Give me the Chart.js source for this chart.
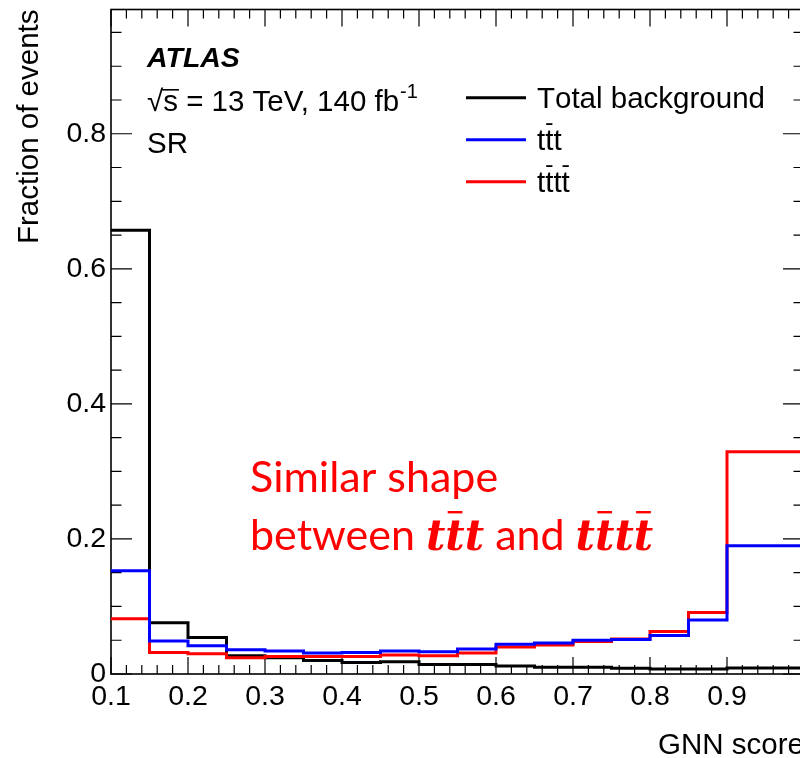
<!DOCTYPE html>
<html>
<head>
<meta charset="utf-8">
<title>GNN score</title>
<script src="https://cdn.jsdelivr.net/npm/chart.js@4.4.0/dist/chart.umd.min.js"></script>
<style>
  html, body { margin: 0; padding: 0; background: #fff; overflow: hidden; }
  #wrap { width: 840px; height: 758px; }
</style>
</head>
<body>
<div id="wrap"><canvas id="myChart" width="840" height="758"></canvas></div>
<script>
	// histogram bin edges (GNN score) and fractions per bin
	var binEdges = [0.1, 0.15, 0.2, 0.25, 0.3, 0.35, 0.4, 0.45, 0.5, 0.55, 0.6, 0.65, 0.7, 0.75, 0.8, 0.85, 0.9, 1.0];
	var totalBkg = [0.657, 0.076, 0.054, 0.027, 0.024, 0.020, 0.017, 0.018, 0.014, 0.014, 0.012, 0.010, 0.010, 0.0085, 0.0075, 0.0075, 0.009];
	var tttVals  = [0.153, 0.049, 0.042, 0.036, 0.034, 0.031, 0.032, 0.034, 0.033, 0.037, 0.044, 0.046, 0.050, 0.051, 0.057, 0.080, 0.190];
	var ttttVals = [0.082, 0.032, 0.030, 0.024, 0.026, 0.026, 0.026, 0.028, 0.027, 0.031, 0.040, 0.043, 0.048, 0.052, 0.063, 0.091, 0.329];
	var seriesNames = ['Total background', 'tt\u0304t', 'tt\u0304tt\u0304'];
	var seriesColors = ['#000000', '#0000ff', '#ff0000'];
	var xTicks = [0.1, 0.2, 0.3, 0.4, 0.5, 0.6, 0.7, 0.8, 0.9];
	var yTicks = [0, 0.2, 0.4, 0.6, 0.8];

	var sansFont = "'Liberation Sans', Arial, Helvetica, sans-serif";

	function histPoints(vals) {
		// one point per lower edge, plus the last upper edge
		return binEdges.map(function (e, i) {
			return { x: e, y: vals[Math.min(i, vals.length - 1)] };
		});
	}

	// writes a string, putting a bar over any char followed by U+0304
	function drawBarred(ctx, str, x, y, barY, barH) {
		for (var i = 0; i < str.length; i++) {
			var ch = str[i];
			if (ch === '\u0304') continue;
			var w = ctx.measureText(ch).width;
			ctx.fillText(ch, x, y);
			if (str[i + 1] === '\u0304') {
				ctx.fillRect(x + w * 0.12, barY, w * 0.76, barH);
			}
			x += w;
		}
		return x;
	}

	var frameTicks = {
		id: 'frameTicks',
		beforeDatasetsDraw: function (chart) {
			var ctx = chart.ctx;
			var a = chart.chartArea;
			var xs = chart.scales.x, ys = chart.scales.y;
			ctx.save();
			ctx.strokeStyle = '#000';
			ctx.lineWidth = 1.2;
			ctx.beginPath();
			// x ticks every 0.02, major every 0.1
			for (var i = 0; i <= 45; i++) {
				var px = xs.getPixelForValue(0.1 + i * 0.02);
				var len = (i % 5 === 0) ? 17 : 9;
				ctx.moveTo(px, a.bottom); ctx.lineTo(px, a.bottom - len);
				ctx.moveTo(px, a.top); ctx.lineTo(px, a.top + len);
			}
			// y ticks every 0.05, major every 0.2
			for (var j = 0; j * 0.05 <= ys.max; j++) {
				var py = ys.getPixelForValue(j * 0.05);
				var l2 = (j % 4 === 0) ? 21 : 10.5;
				ctx.moveTo(a.left, py); ctx.lineTo(a.left + l2, py);
				ctx.moveTo(a.right, py); ctx.lineTo(a.right - l2, py);
			}
			ctx.stroke();
			ctx.lineWidth = 1.6;
			ctx.strokeRect(a.left, a.top, a.right - a.left, a.bottom - a.top);
			ctx.restore();
		},
		afterDraw: function (chart) {
			var ctx = chart.ctx;
			var a = chart.chartArea;
			ctx.save();
			ctx.fillStyle = '#000';
			ctx.textBaseline = 'alphabetic';

			// axis titles
			ctx.font = '29.5px ' + sansFont;
			ctx.textAlign = 'right';
			ctx.fillText('GNN score', a.right, 754);
			ctx.save();
			ctx.translate(38, a.top);
			ctx.rotate(-Math.PI / 2);
			ctx.fillText('Fraction of events', 0, 0);
			ctx.restore();

			// ATLAS label
			ctx.textAlign = 'left';
			ctx.font = 'italic bold 28.5px ' + sansFont;
			ctx.fillText('ATLAS', 147, 67);
			ctx.font = '29.5px ' + sansFont;
			var x = 147;
			ctx.fillText('\u221a', x, 111);
			x += ctx.measureText('\u221a').width;
			var sw = ctx.measureText('s').width;
			ctx.fillRect(x - 1, 89, sw + 2, 1.6);
			var rest = 's = 13 TeV, 140 fb';
			ctx.fillText(rest, x, 111);
			x += ctx.measureText(rest).width;
			ctx.font = '20px ' + sansFont;
			ctx.fillText('-1', x + 1, 98);
			ctx.font = '29.5px ' + sansFont;
			ctx.fillText('SR', 147, 153);

			// legend
			var rowY = [97.7, 139.7, 181.7];
			chart.data.datasets.forEach(function (ds, k) {
				ctx.strokeStyle = ds.borderColor;
				ctx.lineWidth = 3;
				ctx.beginPath();
				ctx.moveTo(466, rowY[k]); ctx.lineTo(526, rowY[k]);
				ctx.stroke();
				ctx.fillStyle = '#000';
				ctx.font = '29.5px ' + sansFont;
				drawBarred(ctx, ds.label, 537, rowY[k] + 10, rowY[k] - 16.5, 1.8);
			});

			// red note
			ctx.fillStyle = '#ff0000';
			ctx.font = '43px Lato, sans-serif';
			ctx.fillText('Similar shape', 250, 492);
			var nx = 250;
			var sp = ctx.measureText(' ').width;
			ctx.fillText('between', nx, 550);
			nx += ctx.measureText('between').width + sp;
			ctx.font = 'italic bold 42px "DejaVu Serif", serif';
			nx = drawBarred(ctx, 'tt\u0304t', nx, 550, 511, 2.4);
			ctx.font = '43px Lato, sans-serif';
			nx += sp;
			ctx.fillText('and', nx, 550);
			nx += ctx.measureText('and').width + sp;
			ctx.font = 'italic bold 42px "DejaVu Serif", serif';
			drawBarred(ctx, 'tt\u0304tt\u0304', nx, 550, 511, 2.4);
			ctx.restore();
		}
	};

	var ctx = document.getElementById('myChart').getContext('2d');
	var myChart = new Chart(ctx, {
		type: 'line',
		data: {
			datasets: [
				{ label: seriesNames[0], data: histPoints(totalBkg), borderColor: seriesColors[0], order: 3 },
				{ label: seriesNames[1], data: histPoints(tttVals), borderColor: seriesColors[1], order: 1 },
				{ label: seriesNames[2], data: histPoints(ttttVals), borderColor: seriesColors[2], order: 2 }
			]
		},
		options: {
			responsive: false,
			animation: false,
			devicePixelRatio: 1,
			layout: { padding: { top: 9.5, right: 36, left: 0, bottom: 0 } },
			elements: {
				line: { borderWidth: 3, stepped: true, fill: false, tension: 0 },
				point: { radius: 0, hoverRadius: 0 }
			},
			plugins: { legend: { display: false }, tooltip: { enabled: false } },
			scales: {
				x: {
					type: 'linear',
					min: 0.1,
					max: 1.0,
					grid: { display: false, drawTicks: false },
					border: { display: false },
					afterBuildTicks: function (s) { s.ticks = xTicks.map(function (v) { return { value: v }; }); },
					ticks: {
						padding: 6,
						color: '#000',
						font: { family: sansFont, size: 28.5 },
						maxRotation: 0,
						autoSkip: false,
						callback: function (v) { return v.toFixed(1); }
					},
					afterFit: function (s) {
						s.height = 84;
						s.paddingLeft = 0; s.paddingRight = 0;
					}
				},
				y: {
					type: 'linear',
					min: 0,
					max: 0.984,
					grid: { display: false, drawTicks: false },
					border: { display: false },
					afterBuildTicks: function (s) { s.ticks = yTicks.map(function (v) { return { value: v }; }); },
					ticks: {
						padding: 5,
						color: '#000',
						font: { family: sansFont, size: 28.5 },
						callback: function (v) { return v === 0 ? '0' : v.toFixed(1); }
					},
					afterFit: function (s) {
						s.width = 111;
						s.paddingTop = 0; s.paddingBottom = 0;
					}
				}
			}
		},
		plugins: [frameTicks]
	});
</script>
</body>
</html>
